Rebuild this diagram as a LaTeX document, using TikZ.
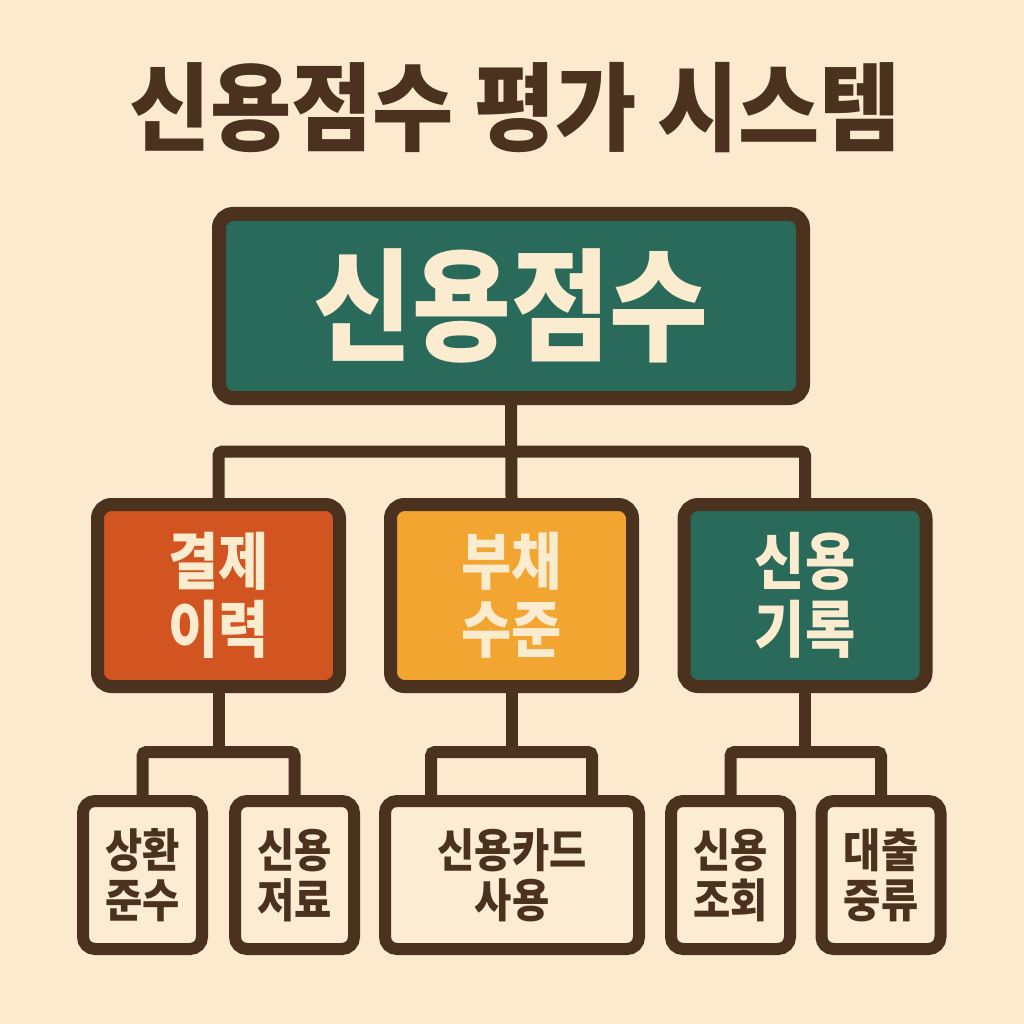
\documentclass[tikz,border=0pt]{standalone}
\usepackage{fontspec}
\newfontfamily\krfont{Noto Sans CJK KR}[FakeStretch=0.88]
\newfontfamily\krwide{Noto Sans CJK KR}[FakeStretch=0.92]
\usetikzlibrary{calc}

\newlength{\du}
\setlength{\du}{1pt}

\definecolor{bgcolor}{RGB}{252,234,207}
\definecolor{edgecolor}{RGB}{74,50,30}
\definecolor{scorefill}{RGB}{42,106,91}
\definecolor{payfill}{RGB}{210,84,32}
\definecolor{debtfill}{RGB}{242,165,48}
\definecolor{leaffill}{RGB}{252,236,210}
\definecolor{lighttext}{RGB}{251,236,208}

\begin{document}
\begin{tikzpicture}[x=\du,y=-\du,
  box/.style={draw=edgecolor,rounded corners=14\du,inner sep=0pt,align=center},
  topbox/.style={box,line width=14\du,minimum width=584\du,minimum height=184\du,
    fill=scorefill,text=lighttext,font=\krfont\bfseries\fontsize{122}{124}\selectfont},
  midbox/.style={box,line width=13\du,minimum width=242\du,minimum height=182\du,
    text=lighttext,font=\krfont\bfseries\fontsize{62}{68}\selectfont},
  leafbox/.style={box,line width=12\du,minimum width=119\du,minimum height=148\du,
    rounded corners=12\du,fill=leaffill,text=edgecolor,
    font=\krfont\bfseries\fontsize{46}{50}\selectfont},
  link/.style={draw=edgecolor,line width=12\du,rounded corners=4\du}]
% background
\fill[bgcolor] (0,0) rectangle (1024,1024);
% title
\node[inner sep=0pt,text=edgecolor,font=\krwide\bfseries\fontsize{96}{100}\selectfont]
  (title) at (515,108) {신용점수 평가 시스템};
% top level
\node[topbox] (score) at (511,306) {신용점수};
% second level
\node[midbox,fill=payfill] (pay) at (218.5,595.5) {결제\\이력};
\node[midbox,fill=debtfill] (debt) at (511.5,595.5) {부채\\수준};
\node[midbox,fill=scorefill] (hist) at (805,595.5) {신용\\기록};
% third level
\node[leafbox] (repay) at (142.5,875) {상환\\준수};
\node[leafbox] (save) at (294.5,875) {신용\\저료};
\node[leafbox,minimum width=254\du] (card) at (512,875) {신용카드\\사용};
\node[leafbox] (inquiry) at (730.5,875) {신용\\조회};
\node[leafbox] (loan) at (881,875) {대출\\중류};
% connectors
\draw[link] (score.south) -- (debt.north);
\coordinate (bus) at ($(score.south)!0.5!(debt.north)$);
\draw[link] (pay.north) |- (bus) -| (hist.north);
\draw[link] (pay.south) -- ++(0,59) coordinate (busA);
\draw[link] (repay.north) |- (busA) -| (save.north);
\draw[link] (debt.south) -- ++(0,59) coordinate (busB);
\draw[link] ([xshift=-81\du]card.north) |- (busB) -| ([xshift=80\du]card.north);
\draw[link] (hist.south) -- ++(0,59) coordinate (busC);
\draw[link] (inquiry.north) |- (busC) -| (loan.north);
\end{tikzpicture}
\end{document}
